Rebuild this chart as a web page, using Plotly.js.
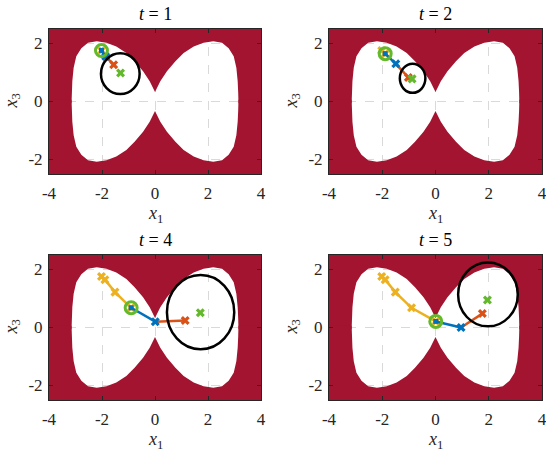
<!DOCTYPE html>
<html>
<head>
<meta charset="utf-8">
<script src="https://cdn.plot.ly/plotly-3.0.1.min.js"></script>
<style>
  html, body { margin: 0; padding: 0; background: #fff; }
  #plot { width: 546px; height: 453px; }
</style>
</head>
<body>
<div id="plot"></div>
<script>
// upper-right quarter of the safe set boundary, from the pinch out to the side
const lobeX = [0, 0.2, 0.45, 0.77, 1.08, 1.46, 1.83, 2.2, 2.53, 2.78, 2.97, 3.07, 3.12, 3.14, 3.15];
const lobeY = [0.33, 0.7, 1.04, 1.39, 1.67, 1.9, 2.03, 2.08, 2.03, 1.84, 1.56, 1.16, 0.7, 0.3, 0];

// state history (yellow)
const histX = [-2.02, -1.89, -1.51, -0.9, 0.01];
const histY = [1.76, 1.65, 1.22, 0.68, 0.21];

const steps = [1, 2, 4, 5];
const blueX = [-1.86, -1.49, 0.01, 0.96];
const blueY = [1.55, 1.3, 0.2, 0.0];
const orangeX = [-1.56, -1.02, 1.14, 1.76];
const orangeY = [1.27, 0.83, 0.24, 0.48];
const goalX = [-1.3, -0.88, 1.71, 1.95];
const goalY = [0.98, 0.78, 0.51, 0.95];

const ellCX = [-1.31, -0.86, 1.72, 1.97];
const ellCY = [0.96, 0.8, 0.53, 1.14];
const ellRX = [0.73, 0.48, 1.27, 1.12];
const ellRY = [0.7, 0.5, 1.28, 1.1];

const xTicks = [-4, -2, 0, 2, 4];
const xTickText = ['-4', '-2', '0', '2', '4'];
const yTicks = [-2, 0, 2];
const yTickText = ['-2', '0', '2'];

const RED = '#A2142F', BLUE = '#0072BD', ORANGE = '#D95319', YELLOW = '#EDB120', GREEN = '#63B82B';
const FONT = 'Liberation Serif';

// page geometry of the 2x2 grid
const W = 546, H = 453;
const cols = [[49, 261], [329, 542]];
const rows = [[29, 174], [255, 400]];

// red region = rectangle minus bowtie, split into upper and lower halves
const side = lobeX[lobeX.length - 1];
const edgeX = lobeX.slice().reverse().concat(lobeX.map(v => -v));
const edgeY = lobeY.slice().reverse().concat(lobeY);
const topX = [-4, -4, 4, 4, side].concat(edgeX, [-side]);
const topY = [-0.06, 2.5, 2.5, -0.06, -0.06].concat(edgeY, [-0.06]);
const botY = topY.map(v => -v);

const data = [];
const layout = {
  width: W, height: H,
  margin: {l: 0, r: 0, t: 0, b: 0},
  paper_bgcolor: '#fff',
  plot_bgcolor: '#fff',
  showlegend: false,
  font: {family: FONT, size: 17, color: '#262626'},
  shapes: [],
  annotations: []
};

steps.forEach((t, i) => {
  const sfx = i === 0 ? '' : String(i + 1);
  const xa = 'x' + sfx, ya = 'y' + sfx;
  const c = cols[i % 2], r = rows[Math.floor(i / 2)];

  const axCommon = {
    showline: true, mirror: 'ticks', linecolor: '#262626', linewidth: 1,
    ticks: 'inside', ticklen: 4, tickcolor: '#262626',
    showgrid: true, gridcolor: '#d9d9d9', griddash: 'dash', gridwidth: 1,
    zeroline: false, fixedrange: true, ticklabeloverflow: 'allow',
    tickfont: {family: FONT, size: 17, color: '#262626'}
  };
  layout['xaxis' + sfx] = Object.assign({}, axCommon, {
    domain: [c[0] / W, c[1] / W], range: [-4, 4], anchor: ya,
    tickvals: xTicks, ticktext: xTickText, ticklabelstandoff: 4
  });
  layout['yaxis' + sfx] = Object.assign({}, axCommon, {
    domain: [1 - r[1] / H, 1 - r[0] / H], range: [-2.5, 2.5], anchor: xa,
    tickvals: yTicks, ticktext: yTickText, ticklabelstandoff: 2
  });

  // unsafe region
  [topY, botY].forEach(ys => {
    data.push({x: topX, y: ys, xaxis: xa, yaxis: ya, mode: 'lines', fill: 'toself',
      fillcolor: RED, line: {width: 0, color: RED}, hoverinfo: 'skip'});
  });

  const k = t - 1;
  const markX = {symbol: 'x', size: 8, line: {width: 0}};

  // history
  data.push({x: histX.slice(0, t), y: histY.slice(0, t), xaxis: xa, yaxis: ya,
    mode: 'lines+markers', line: {color: YELLOW, width: 2.5},
    marker: Object.assign({color: YELLOW}, markX)});
  // predicted steps
  data.push({x: [histX[k], blueX[i]], y: [histY[k], blueY[i]], xaxis: xa, yaxis: ya,
    mode: 'lines', line: {color: BLUE, width: 2.5}});
  data.push({x: [blueX[i], orangeX[i]], y: [blueY[i], orangeY[i]], xaxis: xa, yaxis: ya,
    mode: 'lines', line: {color: ORANGE, width: 2.5}});
  data.push({x: [blueX[i]], y: [blueY[i]], xaxis: xa, yaxis: ya, mode: 'markers',
    marker: Object.assign({color: BLUE}, markX)});
  data.push({x: [orangeX[i]], y: [orangeY[i]], xaxis: xa, yaxis: ya, mode: 'markers',
    marker: Object.assign({color: ORANGE}, markX)});
  // current state
  data.push({x: [histX[k]], y: [histY[k]], xaxis: xa, yaxis: ya, mode: 'markers',
    marker: {symbol: 'circle-open', size: 12, color: GREEN, line: {width: 3, color: GREEN}}});
  data.push({x: [histX[k]], y: [histY[k]], xaxis: xa, yaxis: ya, mode: 'markers',
    marker: {symbol: 'square', size: 5, color: BLUE, line: {width: 0}}});
  // goal
  data.push({x: [goalX[i]], y: [goalY[i]], xaxis: xa, yaxis: ya, mode: 'markers',
    marker: Object.assign({color: GREEN}, markX)});

  layout.shapes.push({type: 'circle', xref: xa, yref: ya,
    x0: ellCX[i] - ellRX[i], x1: ellCX[i] + ellRX[i],
    y0: ellCY[i] - ellRY[i], y1: ellCY[i] + ellRY[i],
    line: {color: '#000', width: 2.5}});

  const dx = xa + ' domain', dy = ya + ' domain';
  layout.annotations.push(
    {text: '<i>t</i> = ' + t, xref: dx, yref: dy, x: 0.5, y: 1, xanchor: 'center', yanchor: 'middle',
      yshift: 15, showarrow: false, font: {family: FONT, size: 18, color: '#000'}},
    {text: '<i>x</i><sub>1</sub>', xref: dx, yref: dy, x: 0.5, y: 0, xanchor: 'center', yanchor: 'middle',
      yshift: -40, showarrow: false, font: {family: FONT, size: 18, color: '#262626'}},
    {text: '<i>x</i><sub>3</sub>', xref: dx, yref: dy, x: 0, y: 0.5, xanchor: 'center', yanchor: 'middle',
      xshift: -37, textangle: -90, showarrow: false, font: {family: FONT, size: 18, color: '#262626'}}
  );
});

Plotly.newPlot('plot', data, layout, {displayModeBar: false, staticPlot: true});
</script>
</body>
</html>
